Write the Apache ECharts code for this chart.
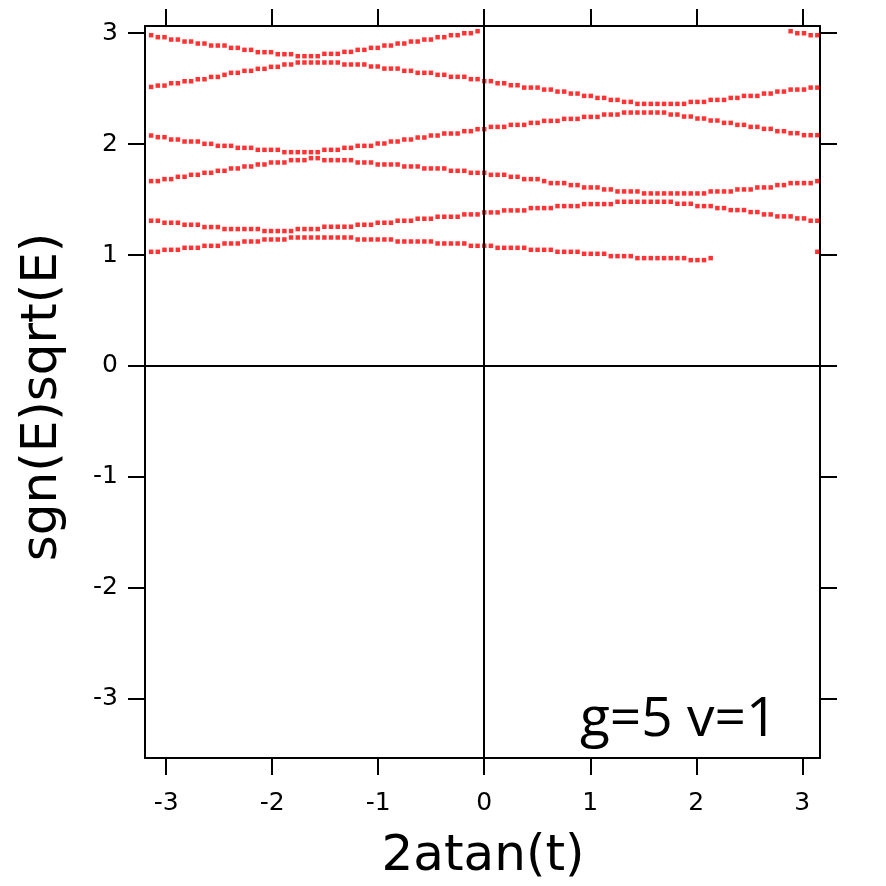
<!DOCTYPE html>
<html>
<head>
<meta charset="utf-8">
<script src="https://cdn.jsdelivr.net/npm/echarts@6/dist/echarts.min.js"></script>
<style>
html,body{margin:0;padding:0;background:#fff;}
#chart{width:886px;height:886px;}
</style>
</head>
<body>
<div id="chart"></div>
<script>
// x grid: 2atan(t)
const xs = [-3.142,-3.079,-3.016,-2.953,-2.890,-2.827,-2.765,-2.702,-2.639,-2.576,-2.513,-2.450,-2.388,-2.325,-2.262,-2.199,-2.136,-2.073,-2.011,-1.948,-1.885,-1.822,-1.759,-1.696,-1.634,-1.571,-1.508,-1.445,-1.382,-1.319,-1.257,-1.194,-1.131,-1.068,-1.005,-0.942,-0.880,-0.817,-0.754,-0.691,-0.628,-0.565,-0.503,-0.440,-0.377,-0.314,-0.251,-0.188,-0.126,-0.063,0,0.063,0.126,0.188,0.251,0.314,0.377,0.440,0.503,0.565,0.628,0.691,0.754,0.817,0.880,0.942,1.005,1.068,1.131,1.194,1.257,1.319,1.382,1.445,1.508,1.571,1.634,1.696,1.759,1.822,1.885,1.948,2.011,2.073,2.136,2.199,2.262,2.325,2.388,2.450,2.513,2.576,2.639,2.702,2.765,2.827,2.890,2.953,3.016,3.079,3.142];

// levels sgn(E)sqrt(E), lowest to highest (null = no point)
const level1 = [1.029,1.029,1.047,1.047,1.047,1.065,1.065,1.065,1.083,1.083,1.083,1.104,1.104,1.104,1.122,1.122,1.122,1.140,1.140,1.140,1.140,1.158,1.158,1.158,1.158,1.158,1.158,1.158,1.158,1.158,1.158,1.140,1.140,1.140,1.140,1.140,1.140,1.122,1.122,1.122,1.122,1.122,1.122,1.104,1.104,1.104,1.104,1.104,1.083,1.083,1.083,1.083,1.065,1.065,1.065,1.065,1.065,1.047,1.047,1.047,1.047,1.029,1.029,1.029,1.029,1.011,1.011,1.011,1.011,0.990,0.990,0.990,0.990,0.972,0.972,0.972,0.972,0.972,0.972,0.972,0.972,0.954,0.954,0.954,0.972,null,null,null,null,null,null,null,null,null,null,null,null,null,null,null,1.029];
const level2 = [1.309,1.309,1.291,1.291,1.291,1.273,1.273,1.273,1.252,1.252,1.252,1.234,1.234,1.234,1.234,1.234,1.234,1.216,1.216,1.216,1.216,1.216,1.234,1.234,1.234,1.234,1.255,1.255,1.255,1.255,1.255,1.273,1.273,1.273,1.291,1.291,1.291,1.309,1.309,1.309,1.327,1.327,1.327,1.345,1.345,1.345,1.345,1.366,1.366,1.366,1.384,1.384,1.384,1.402,1.402,1.402,1.402,1.423,1.423,1.423,1.423,1.441,1.441,1.441,1.441,1.459,1.459,1.459,1.459,1.459,1.480,1.480,1.480,1.480,1.480,1.480,1.480,1.480,1.480,1.462,1.462,1.462,1.441,1.441,1.441,1.423,1.423,1.405,1.405,1.405,1.387,1.387,1.366,1.366,1.348,1.348,1.348,1.330,1.330,1.309,1.309];
const level3 = [1.666,1.666,1.684,1.684,1.705,1.705,1.723,1.723,1.741,1.741,1.759,1.759,1.780,1.780,1.798,1.798,1.816,1.816,1.834,1.834,1.834,1.855,1.855,1.855,1.873,1.873,1.855,1.855,1.855,1.855,1.855,1.834,1.834,1.834,1.816,1.816,1.816,1.816,1.798,1.798,1.798,1.780,1.780,1.780,1.780,1.759,1.759,1.759,1.741,1.741,1.741,1.723,1.723,1.723,1.705,1.705,1.684,1.684,1.684,1.666,1.648,1.648,1.648,1.630,1.630,1.609,1.609,1.609,1.591,1.591,1.573,1.573,1.573,1.573,1.555,1.555,1.555,1.555,1.555,1.555,1.555,1.555,1.555,1.555,1.573,1.573,1.573,1.573,1.591,1.591,1.591,1.609,1.609,1.609,1.630,1.630,1.648,1.648,1.648,1.648,1.666];
const level4 = [2.077,2.062,2.062,2.041,2.041,2.023,2.023,2.023,2.002,2.002,1.984,1.984,1.984,1.966,1.966,1.966,1.948,1.948,1.948,1.948,1.927,1.927,1.927,1.927,1.927,1.927,1.948,1.948,1.948,1.966,1.966,1.984,1.984,1.984,2.005,2.005,2.023,2.023,2.041,2.041,2.059,2.059,2.077,2.077,2.095,2.095,2.095,2.116,2.116,2.134,2.134,2.155,2.155,2.155,2.173,2.173,2.173,2.191,2.191,2.209,2.209,2.209,2.227,2.227,2.227,2.245,2.245,2.245,2.266,2.266,2.266,2.284,2.284,2.284,2.284,2.284,2.284,2.284,2.266,2.266,2.248,2.248,2.230,2.230,2.212,2.212,2.191,2.191,2.173,2.173,2.155,2.155,2.137,2.137,2.116,2.116,2.098,2.098,2.080,2.080,2.080];
const level5 = [2.515,2.527,2.527,2.548,2.548,2.566,2.566,2.584,2.584,2.605,2.605,2.624,2.642,2.642,2.660,2.660,2.678,2.678,2.696,2.696,2.717,2.717,2.735,2.735,2.735,2.735,2.735,2.735,2.735,2.717,2.717,2.717,2.717,2.699,2.699,2.680,2.680,2.680,2.660,2.660,2.642,2.642,2.642,2.624,2.624,2.606,2.606,2.606,2.585,2.585,2.567,2.567,2.548,2.548,2.530,2.530,2.509,2.509,2.509,2.491,2.491,2.473,2.473,2.455,2.455,2.434,2.434,2.416,2.416,2.398,2.398,2.380,2.380,2.362,2.362,2.362,2.362,2.362,2.362,2.362,2.362,2.380,2.380,2.380,2.398,2.398,2.398,2.416,2.416,2.434,2.434,2.434,2.455,2.455,2.473,2.473,2.491,2.491,2.491,2.509,2.509];
const level6 = [2.981,2.963,2.963,2.942,2.942,2.924,2.924,2.906,2.906,2.888,2.888,2.888,2.867,2.867,2.849,2.849,2.828,2.828,2.828,2.810,2.810,2.810,2.792,2.792,2.792,2.792,2.813,2.813,2.813,2.831,2.831,2.849,2.849,2.867,2.867,2.888,2.888,2.906,2.906,2.924,2.924,2.942,2.942,2.963,2.963,2.981,2.981,2.999,2.999,3.017,null,null,null,null,null,null,null,null,null,null,null,null,null,null,null,null,null,null,null,null,null,null,null,null,null,null,null,null,null,null,null,null,null,null,null,null,null,null,null,null,null,null,null,null,null,null,3.017,2.999,2.999,2.981,2.981];

const levels = [level1, level2, level3, level4, level5, level6];
const xTicks = [-3, -2, -1, 0, 1, 2, 3];
const yTicks = [-3, -2, -1, 0, 1, 2, 3];
const xTitle = '2atan(t)';
const yTitle = 'sgn(E)sqrt(E)';
const annotation = 'g=5 v=1';

const chart = echarts.init(document.getElementById('chart'), null, {renderer: 'canvas'});

const lineStyle = {color: '#000', width: 2};
const labelFont = {fontSize: 25, color: '#000', fontFamily: 'DejaVu Sans'};

function pairs(ys) {
  const out = [];
  ys.forEach((y, i) => { if (y !== null) out.push([xs[i], y]); });
  return out;
}

const series = levels.map((ys, k) => ({
  type: 'scatter',
  data: pairs(ys),
  symbol: 'rect',
  symbolSize: 4.5,
  itemStyle: {color: '#ff0000'},
  silent: true,
  z: 3
}));
series.push({
  type: 'scatter',
  data: [],
  silent: true,
  markLine: {
    silent: true,
    symbol: ['none', 'none'],
    label: {show: false},
    lineStyle: {color: '#000', width: 2, type: 'solid'},
    data: [{xAxis: 0}, {yAxis: 0}],
    animation: false
  },
  z: 2
});

const xBase = {
  type: 'value', min: -3.2, max: 3.167,
  splitLine: {show: false},
  axisLine: {show: true, onZero: false, lineStyle: lineStyle},
  axisTick: {show: true, inside: false, length: 17, customValues: xTicks, lineStyle: lineStyle}
};
const yBase = {
  type: 'value', min: -3.533, max: 3.064,
  splitLine: {show: false},
  axisLine: {show: true, onZero: false, lineStyle: lineStyle},
  axisTick: {show: true, inside: false, length: 17, customValues: yTicks, lineStyle: lineStyle}
};

chart.setOption({
  animation: false,
  backgroundColor: '#fff',
  grid: {left: 145, right: 66, top: 26, bottom: 128, containLabel: false},
  xAxis: [
    Object.assign({}, xBase, {position: 'bottom',
      axisLabel: Object.assign({show: true, margin: 33, customValues: xTicks}, labelFont)}),
    Object.assign({}, xBase, {position: 'top', axisLabel: {show: false}})
  ],
  yAxis: [
    Object.assign({}, yBase, {position: 'left',
      axisLabel: Object.assign({show: true, margin: 27, customValues: yTicks}, labelFont)}),
    Object.assign({}, yBase, {position: 'right', axisLabel: {show: false}})
  ],
  series: series,
  graphic: [
    {type: 'text', x: 483, y: 857, silent: true,
      style: {text: xTitle, fill: '#000', font: '50px "DejaVu Sans"', textAlign: 'center', textVerticalAlign: 'middle'}},
    {type: 'text', x: 43, y: 397, rotation: Math.PI / 2, silent: true,
      style: {text: yTitle, fill: '#000', font: '50px "DejaVu Sans"', textAlign: 'center', textVerticalAlign: 'middle'}},
    {type: 'text', x: 580, y: 720, silent: true,
      style: {text: annotation, fill: '#000', font: '55px "Open Sans"', textAlign: 'left', textVerticalAlign: 'middle'}}
  ]
});
</script>
</body>
</html>
